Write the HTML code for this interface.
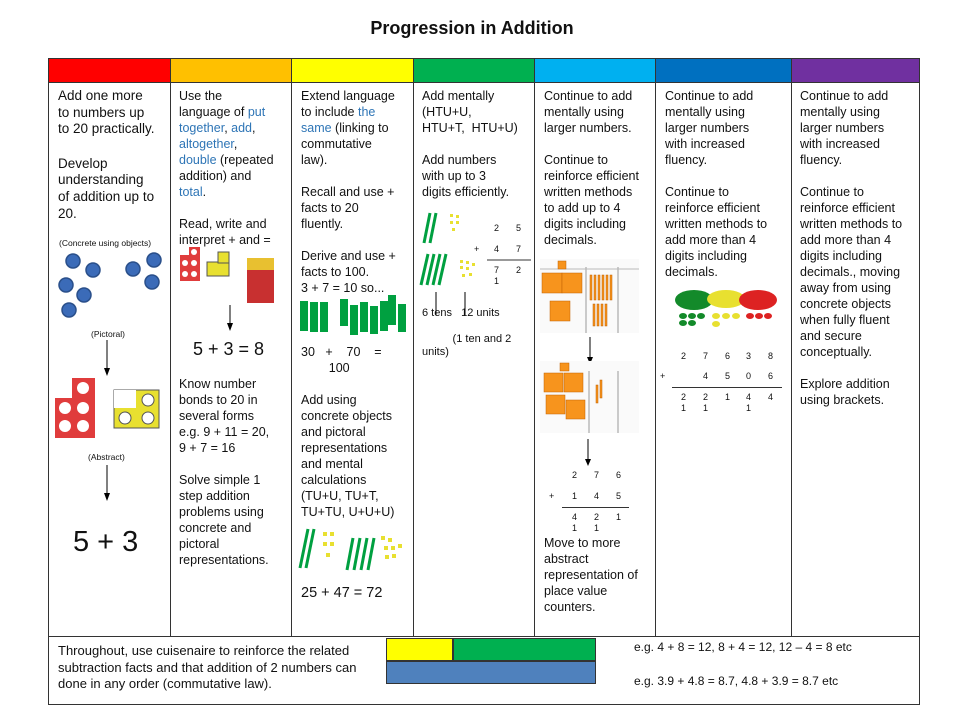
<!DOCTYPE html>
<html><head><meta charset="utf-8"><style>
body{margin:0;width:960px;height:720px;background:#fff;position:relative;overflow:hidden;font-family:"Liberation Sans",sans-serif;color:#111}
.a{position:absolute}
.col{position:absolute;top:88px;font-size:12.5px;line-height:16px;white-space:nowrap}
.b{color:#2e75b6}
.v{position:absolute;top:58px;height:578px;width:1px;background:#333}
.s{font-size:8.5px}
.n{position:absolute;font-size:9px}
</style></head><body>
<div class="a" style="left:0;top:18px;width:944px;text-align:center;font-weight:bold;font-size:18px">Progression in Addition</div>
<div class="a" style="left:48px;top:58px;width:872px;height:647px;border:1px solid #333;box-sizing:border-box"></div>
<div class="a" style="left:49px;top:59px;width:121px;height:23px;background:#ff0000"></div>
<div class="a" style="left:171px;top:59px;width:120px;height:23px;background:#ffc000"></div>
<div class="a" style="left:292px;top:59px;width:121px;height:23px;background:#ffff00"></div>
<div class="a" style="left:414px;top:59px;width:120px;height:23px;background:#00b050"></div>
<div class="a" style="left:535px;top:59px;width:120px;height:23px;background:#00b0f0"></div>
<div class="a" style="left:656px;top:59px;width:135px;height:23px;background:#0070c0"></div>
<div class="a" style="left:792px;top:59px;width:127px;height:23px;background:#7030a0"></div>
<div class="a" style="left:48px;top:82px;width:872px;height:1px;background:#333"></div>
<div class="v" style="left:170px"></div><div class="v" style="left:291px"></div><div class="v" style="left:413px"></div><div class="v" style="left:534px"></div><div class="v" style="left:655px"></div><div class="v" style="left:791px"></div>
<div class="a" style="left:48px;top:636px;width:872px;height:1px;background:#333"></div>

<div class="col" style="left:58px;font-size:13.5px;line-height:16.6px">Add one more<br>to numbers up<br>to 20 practically.<br><span style="line-height:18px"><br></span>Develop<br>understanding<br>of addition up to<br>20.</div>
<div class="a s" style="left:59px;top:238px">(Concrete using objects)</div>
<svg class="a" style="left:50px;top:248px" width="120" height="75">
<g fill="#3b6bb8" stroke="#2a4f8a" stroke-width="1.5"><circle cx="23" cy="13" r="7"/><circle cx="43" cy="22" r="7"/><circle cx="16" cy="37" r="7"/><circle cx="34" cy="47" r="7"/><circle cx="19" cy="62" r="7"/><circle cx="83" cy="21" r="7"/><circle cx="104" cy="12" r="7"/><circle cx="102" cy="34" r="7"/></g></svg>
<div class="a s" style="left:91px;top:329px">(Pictoral)</div>
<svg class="a" style="left:50px;top:338px" width="120" height="170">
<line x1="57" y1="2" x2="57" y2="35" stroke="#000"/><path d="M54 30 L57 38 L60 30Z" fill="#000"/>
<rect x="5" y="40" width="40" height="60" fill="#e03c3c"/>
<g fill="#fff"><circle cx="33" cy="50" r="6"/><circle cx="15" cy="70" r="6"/><circle cx="33" cy="70" r="6"/><circle cx="15" cy="88" r="6"/><circle cx="33" cy="88" r="6"/></g>
<rect x="5" y="40" width="17" height="20" fill="#fff"/>
<rect x="64" y="52" width="45" height="38" fill="#e8e030" stroke="#555"/><rect x="64" y="52" width="22" height="18" fill="#fff"/>
<g fill="#fff" stroke="#555"><circle cx="98" cy="62" r="6"/><circle cx="75" cy="80" r="6"/><circle cx="98" cy="80" r="6"/></g>
<line x1="57" y1="127" x2="57" y2="160" stroke="#000"/><path d="M54 155 L57 163 L60 155Z" fill="#000"/>
</svg>
<div class="a s" style="left:88px;top:452px">(Abstract)</div>
<div class="a" style="left:73px;top:526px;font-size:29px">5 + 3</div>

<div class="col" style="left:179px">Use the<br>language of <span class="b">put</span><br><span class="b">together</span>, <span class="b">add</span>,<br><span class="b">altogether</span>,<br><span class="b">double</span> (repeated<br>addition) and<br><span class="b">total</span>.<br><br>Read, write and<br>interpret + and =</div>
<svg class="a" style="left:176px;top:245px" width="110" height="90">
<rect x="4" y="10" width="20" height="26" fill="#e03c3c"/><rect x="13" y="2" width="11" height="10" fill="#e03c3c"/>
<g fill="#fff"><circle cx="18" cy="7" r="3"/><circle cx="9" cy="18" r="3"/><circle cx="18" cy="18" r="3"/><circle cx="9" cy="29" r="3"/><circle cx="18" cy="29" r="3"/></g>
<rect x="31" y="17" width="22" height="14" fill="#e8e030" stroke="#555"/><rect x="42" y="7" width="11" height="11" fill="#e8e030" stroke="#555"/>
<rect x="71" y="13" width="27" height="45" fill="#c83030"/><rect x="71" y="13" width="27" height="12" fill="#e8c030"/>
<line x1="54" y1="60" x2="54" y2="82" stroke="#000"/><path d="M51 78 L54 86 L57 78Z" fill="#000"/></svg>
<div class="a" style="left:193px;top:339px;font-size:18px">5 + 3 = 8</div>
<div class="col" style="left:179px;top:376px">Know number<br>bonds to 20 in<br>several forms<br>e.g. 9 + 11 = 20,<br>9 + 7 = 16<br><br>Solve simple 1<br>step addition<br>problems using<br>concrete and<br>pictoral<br>representations.</div>

<div class="col" style="left:301px">Extend language<br>to include <span class="b">the</span><br><span class="b">same</span> (linking to<br>commutative<br>law).<br><br>Recall and use +<br>facts to 20<br>fluently.<br><br>Derive and use +<br>facts to 100.<br>3 + 7 = 10 so...</div>
<svg class="a" style="left:298px;top:295px" width="112" height="45" fill="#00a040">
<rect x="2" y="6" width="8" height="30"/><rect x="12" y="7" width="8" height="30"/><rect x="22" y="7" width="8" height="30"/>
<rect x="42" y="4" width="8" height="27"/><rect x="52" y="10" width="8" height="30"/><rect x="62" y="7" width="8" height="30"/><rect x="72" y="11" width="8" height="28"/><rect x="82" y="6" width="8" height="30"/><rect x="90" y="0" width="8" height="30"/><rect x="100" y="9" width="8" height="28"/></svg>
<div class="col" style="left:301px;top:344px">30 &nbsp; + &nbsp;&nbsp; 70 &nbsp;&nbsp; =<br>&nbsp;&nbsp;&nbsp;&nbsp;&nbsp;&nbsp;&nbsp; 100<br><br>Add using<br>concrete objects<br>and pictoral<br>representations<br>and mental<br>calculations<br>(TU+U, TU+T,<br>TU+TU, U+U+U)</div>
<svg class="a" style="left:296px;top:528px" width="115" height="45">
<g stroke="#00a040" stroke-width="3"><line x1="12" y1="1" x2="4" y2="40"/><line x1="18" y1="1" x2="10" y2="40"/><line x1="57" y1="10" x2="51" y2="42"/><line x1="64" y1="10" x2="58" y2="42"/><line x1="71" y1="10" x2="65" y2="42"/><line x1="78" y1="10" x2="72" y2="42"/></g>
<g fill="#e8e030"><rect x="27" y="4" width="4" height="4"/><rect x="34" y="4" width="4" height="4"/><rect x="27" y="14" width="4" height="4"/><rect x="34" y="14" width="4" height="4"/><rect x="30" y="25" width="4" height="4"/><rect x="85" y="8" width="4" height="4"/><rect x="92" y="10" width="4" height="4"/><rect x="88" y="18" width="4" height="4"/><rect x="95" y="18" width="4" height="4"/><rect x="102" y="16" width="4" height="4"/><rect x="89" y="27" width="4" height="4"/><rect x="96" y="26" width="4" height="4"/></g></svg>
<div class="a" style="left:301px;top:585px;font-size:14.5px">25 + 47 = 72</div>

<div class="col" style="left:422px">Add mentally<br>(HTU+U,<br>HTU+T, &nbsp;HTU+U)<br><br>Add numbers<br>with up to 3<br>digits efficiently.</div>
<svg class="a" style="left:416px;top:210px" width="118" height="115">
<g stroke="#00a040" stroke-width="3"><line x1="14" y1="3" x2="8" y2="33"/><line x1="20" y1="3" x2="14" y2="33"/><line x1="12" y1="44" x2="5" y2="75"/><line x1="18" y1="44" x2="11" y2="75"/><line x1="24" y1="44" x2="17" y2="75"/><line x1="30" y1="44" x2="23" y2="75"/></g>
<g fill="#e8e030"><rect x="34" y="4" width="3" height="3"/><rect x="40" y="5" width="3" height="3"/><rect x="34" y="11" width="3" height="3"/><rect x="40" y="11" width="3" height="3"/><rect x="36" y="18" width="3" height="3"/><rect x="44" y="50" width="3" height="3"/><rect x="50" y="51" width="3" height="3"/><rect x="44" y="56" width="3" height="3"/><rect x="50" y="57" width="3" height="3"/><rect x="56" y="53" width="3" height="3"/><rect x="46" y="64" width="3" height="3"/><rect x="53" y="63" width="3" height="3"/></g>
<line x1="71" y1="50" x2="115" y2="50" stroke="#333"/>
<line x1="20" y1="82" x2="20" y2="105" stroke="#000"/><line x1="49" y1="82" x2="49" y2="105" stroke="#000"/></svg>
<div class="n" style="left:494px;top:223px">2</div><div class="n" style="left:516px;top:223px">5</div>
<div class="n" style="left:474px;top:244px">+</div><div class="n" style="left:494px;top:244px">4</div><div class="n" style="left:516px;top:244px">7</div>
<div class="n" style="left:494px;top:265px">7</div><div class="n" style="left:516px;top:265px">2</div><div class="n" style="left:494px;top:276px">1</div>
<div class="a" style="left:422px;top:307px;font-size:11px">6 tens &nbsp; 12 units</div>
<div class="a" style="left:422px;top:333px;font-size:11px;line-height:13px">&nbsp;&nbsp;&nbsp;&nbsp;&nbsp;&nbsp;&nbsp;&nbsp;&nbsp; (1 ten and 2<br>units)</div>

<div class="col" style="left:544px">Continue to add<br>mentally using<br>larger numbers.<br><br>Continue to<br>reinforce efficient<br>written methods<br>to add up to 4<br>digits including<br>decimals.</div>
<svg class="a" style="left:540px;top:259px" width="100" height="210">
<rect x="0" y="0" width="99" height="74" fill="#fafafa"/><line x1="46" y1="8" x2="46" y2="74" stroke="#999"/><line x1="78" y1="8" x2="78" y2="74" stroke="#999"/><line x1="0" y1="10" x2="99" y2="10" stroke="#bbb"/>
<g fill="#f7941d" stroke="#c06000" stroke-width=".5"><rect x="18" y="2" width="8" height="8"/><rect x="2" y="14" width="20" height="20"/><rect x="22" y="14" width="20" height="20"/><rect x="10" y="42" width="20" height="20"/>
<rect x="50" y="16" width="2" height="25"/><rect x="54" y="16" width="2" height="25"/><rect x="58" y="16" width="2" height="25"/><rect x="62" y="16" width="2" height="25"/><rect x="66" y="16" width="2" height="25"/><rect x="70" y="16" width="2" height="25"/><rect x="53" y="45" width="2" height="22"/><rect x="57" y="45" width="2" height="22"/><rect x="61" y="45" width="2" height="22"/><rect x="65" y="45" width="2" height="22"/></g>
<line x1="50" y1="78" x2="50" y2="102" stroke="#000"/><path d="M47 98 L50 105 L53 98Z" fill="#000"/>
<rect x="0" y="102" width="99" height="72" fill="#fafafa"/><line x1="49" y1="112" x2="49" y2="174" stroke="#999"/><line x1="78" y1="112" x2="78" y2="174" stroke="#999"/>
<g fill="#f7941d" stroke="#c06000" stroke-width=".5"><rect x="20" y="104" width="9" height="8"/><rect x="4" y="114" width="19" height="19"/><rect x="24" y="114" width="19" height="19"/><rect x="6" y="136" width="19" height="19"/><rect x="26" y="141" width="19" height="19"/><rect x="56" y="126" width="2" height="18"/><rect x="60" y="121" width="2" height="18"/></g>
<line x1="48" y1="180" x2="48" y2="204" stroke="#000"/><path d="M45 200 L48 207 L51 200Z" fill="#000"/></svg>
<div class="n" style="left:572px;top:470px">2</div><div class="n" style="left:594px;top:470px">7</div><div class="n" style="left:616px;top:470px">6</div>
<div class="n" style="left:549px;top:491px">+</div><div class="n" style="left:572px;top:491px">1</div><div class="n" style="left:594px;top:491px">4</div><div class="n" style="left:616px;top:491px">5</div>
<div class="a" style="left:562px;top:507px;width:67px;height:1px;background:#333"></div>
<div class="n" style="left:572px;top:512px">4</div><div class="n" style="left:594px;top:512px">2</div><div class="n" style="left:616px;top:512px">1</div>
<div class="n" style="left:572px;top:523px">1</div><div class="n" style="left:594px;top:523px">1</div>
<div class="col" style="left:544px;top:535px">Move to more<br>abstract<br>representation of<br>place value<br>counters.</div>

<div class="col" style="left:665px">Continue to add<br>mentally using<br>larger numbers<br>with increased<br>fluency.<br><br>Continue to<br>reinforce efficient<br>written methods to<br>add more than 4<br>digits including<br>decimals.</div>
<svg class="a" style="left:674px;top:288px" width="106" height="42">
<ellipse cx="20" cy="12" rx="19" ry="10" fill="#138a2a"/><ellipse cx="52" cy="11" rx="19" ry="9" fill="#e8e030"/><ellipse cx="84" cy="12" rx="19" ry="10" fill="#dd2222"/>
<g fill="#138a2a"><ellipse cx="9" cy="28" rx="4" ry="3"/><ellipse cx="18" cy="28" rx="4" ry="3"/><ellipse cx="27" cy="28" rx="4" ry="3"/><ellipse cx="9" cy="35" rx="4" ry="3"/><ellipse cx="18" cy="35" rx="4" ry="3"/></g>
<g fill="#e8e030"><ellipse cx="42" cy="28" rx="4" ry="3"/><ellipse cx="52" cy="28" rx="4" ry="3"/><ellipse cx="62" cy="28" rx="4" ry="3"/><ellipse cx="42" cy="36" rx="4" ry="3"/></g>
<g fill="#dd2222"><ellipse cx="76" cy="28" rx="4" ry="3"/><ellipse cx="85" cy="28" rx="4" ry="3"/><ellipse cx="94" cy="28" rx="4" ry="3"/></g></svg>
<div class="n" style="left:681px;top:351px">2</div><div class="n" style="left:703px;top:351px">7</div><div class="n" style="left:725px;top:351px">6</div><div class="n" style="left:746px;top:351px">3</div><div class="n" style="left:768px;top:351px">8</div>
<div class="n" style="left:660px;top:371px">+</div><div class="n" style="left:703px;top:371px">4</div><div class="n" style="left:725px;top:371px">5</div><div class="n" style="left:746px;top:371px">0</div><div class="n" style="left:768px;top:371px">6</div>
<div class="a" style="left:672px;top:387px;width:110px;height:1px;background:#333"></div>
<div class="n" style="left:681px;top:392px">2</div><div class="n" style="left:703px;top:392px">2</div><div class="n" style="left:725px;top:392px">1</div><div class="n" style="left:746px;top:392px">4</div><div class="n" style="left:768px;top:392px">4</div>
<div class="n" style="left:681px;top:403px">1</div><div class="n" style="left:703px;top:403px">1</div><div class="n" style="left:746px;top:403px">1</div>

<div class="col" style="left:800px">Continue to add<br>mentally using<br>larger numbers<br>with increased<br>fluency.<br><br>Continue to<br>reinforce efficient<br>written methods to<br>add more than 4<br>digits including<br>decimals., moving<br>away from using<br>concrete objects<br>when fully fluent<br>and secure<br>conceptually.<br><br>Explore addition<br>using brackets.</div>

<div class="a" style="left:58px;top:643px;font-size:13px;line-height:16.5px">Throughout, use cuisenaire to reinforce the related<br>subtraction facts and that addition of 2 numbers can<br>done in any order (commutative law).</div>
<div class="a" style="left:386px;top:638px;width:67px;height:23px;background:#ffff00;border:1px solid #333;box-sizing:border-box"></div>
<div class="a" style="left:453px;top:638px;width:143px;height:23px;background:#00b050;border:1px solid #333;box-sizing:border-box"></div>
<div class="a" style="left:386px;top:661px;width:210px;height:23px;background:#4f81bd;border:1px solid #333;box-sizing:border-box"></div>
<div class="a" style="left:634px;top:640px;font-size:12px">e.g. 4 + 8 = 12, 8 + 4 = 12, 12 – 4 = 8 etc</div>
<div class="a" style="left:634px;top:674px;font-size:12px">e.g. 3.9 + 4.8 = 8.7, 4.8 + 3.9 = 8.7 etc</div>
</body></html>
